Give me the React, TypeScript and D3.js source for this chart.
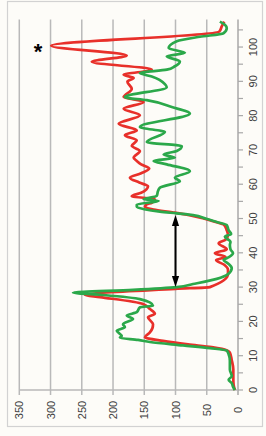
import React from 'react';
import * as d3 from 'd3';

const W = 266;
const H = 436;

const positionTicks = [0, 10, 20, 30, 40, 50, 60, 70, 80, 90, 100];
const positionMinorTicks = d3.range(0, 106, 5);
const valueTicks = [0, 50, 100, 150, 200, 250, 300, 350];

const greenX = [0, 1, 2, 3, 4, 6, 8.5, 10.4, 11.5, 12.2, 13, 14, 14.6, 15.2, 15.8, 16.5, 17.3, 18.3, 19.2, 20.7, 21.7, 22.7, 24.1, 24.6, 26.5, 27.7, 28.4, 29.2, 30, 30.9, 32.4, 33.8, 35.5, 36.9, 37.9, 38.8, 39.9, 41, 42.3, 43.2, 44.7, 45.5, 46.6, 48.1, 49, 50, 51, 51.5, 52, 52.7, 53.4, 54.1, 55.1, 55.6, 56.6, 58, 59, 60.9, 61.9, 63.8, 65.8, 66.8, 67.7, 68.7, 69.7, 71.1, 72.3, 75.2, 76.7, 80.6, 82.5, 84.5, 85.4, 88.3, 89.2, 91.4, 92.4, 93.4, 94.4, 95.8, 97.3, 98.3, 99.7, 101.7, 103, 104, 105.5, 106.5, 107.4];
const greenY = [5, 8, 10, 15, 10, 13, 13, 15, 18, 45, 88, 141, 160, 189, 186, 190, 194, 181, 184, 168, 178, 162, 157, 136, 157, 215, 264, 168, 98, 72, 34, 16, 10, 16, 23, 14, 8, 12, 13, 12, 21, 11, 15, 18, 34, 52, 72, 98, 125, 150, 162, 162, 127, 151, 130, 128, 125, 93, 101, 77, 114, 135, 101, 119, 98, 90, 146, 117, 157, 77, 106, 146, 181, 114, 117, 138, 157, 114, 101, 93, 114, 85, 111, 98, 61, 23.5, 18, 21, 29];

const redX = [0, 1.5, 3.1, 6, 8.7, 10.9, 11.4, 12.5, 13.3, 14.3, 15.4, 16.8, 18, 19.2, 20.2, 21.2, 22.2, 23.6, 25.1, 27.1, 27.7, 29.5, 30, 33.8, 35, 36.5, 37.9, 38.8, 39.9, 41, 42.8, 43.8, 45.2, 46.6, 48.1, 49, 50, 51, 51.8, 52.6, 53.4, 54.1, 54.6, 55.6, 56.5, 57.5, 59.4, 60.5, 61.9, 63.2, 64.6, 65.8, 66.8, 67.7, 69.7, 71.2, 72.8, 74.3, 75.7, 77.6, 80.1, 82, 84, 85.4, 87.8, 89.9, 91, 91.9, 93.4, 95.7, 97.5, 100.4, 104.5, 106, 107.4];
const redY = [5, 7, 7.5, 7.5, 10, 13, 16, 42, 80, 120, 149, 141, 137, 136, 140, 144, 133, 141, 152, 221, 245, 100, 45, 16, 16, 22, 35, 20, 37, 18, 31, 20, 16, 18, 22, 36, 55, 78, 105, 135, 149, 146, 138, 133, 170, 155, 144, 158, 173, 155, 142, 155, 162, 167, 157, 170, 162, 181, 162, 191, 157, 183, 151, 183, 170, 177, 167, 183, 138, 234, 178, 299, 30, 26, 22];

const arrowValue = 100;
const arrowFrom = 30;
const arrowTo = 51;
const starPos = 100.3;
const starValue = 320;

export default function App() {
  const pos = d3.scaleLinear().domain([0, 108]).range([390, 19.6]);
  const val = d3.scaleLinear().domain([0, 350]).range([238, 19.3]);

  const line = d3
    .line<[number, number]>()
    .x((d) => val(d[1]))
    .y((d) => pos(d[0]))
    .curve(d3.curveMonotoneY);

  const green: [number, number][] = greenX.map((x, i) => [x, greenY[i]]);
  const red: [number, number][] = redX.map((x, i) => [x, redY[i]]);

  const font = "'Liberation Sans', Arial, sans-serif";
  const ax = val(arrowValue);
  const aTop = pos(arrowTo);
  const aBot = pos(arrowFrom);
  const headL = 11;
  const headW = 3.6;

  return (
    <svg
      width={W}
      height={H}
      style={{ position: 'absolute', left: 0, top: 0, background: '#fdfcf8' }}
    >
      <rect x={0} y={0} width={W} height={H} fill="#fdfcf8" />
      <rect x={7.5} y={1.5} width={255} height={425} fill="none" stroke="#d2d2d2" strokeWidth={1.2} />
      {valueTicks.map((t) => (
        <line
          key={'g' + t}
          x1={val(t)}
          x2={val(t)}
          y1={pos(108)}
          y2={pos(0) + 5}
          stroke={t === 0 ? '#a8a8a8' : '#b9b9b9'}
          strokeWidth={1.5}
        />
      ))}
      <line x1={val(350)} x2={val(0)} y1={pos(0)} y2={pos(0)} stroke="#b9b9b9" strokeWidth={1.3} />
      {positionMinorTicks.map((t) => (
        <line key={'t' + t} x1={val(0)} x2={val(0) + 5} y1={pos(t)} y2={pos(t)} stroke="#a8a8a8" strokeWidth={1.2} />
      ))}
      {valueTicks.map((t) => (
        <text
          key={'vl' + t}
          transform={`translate(${val(t)},410) rotate(-90)`}
          textAnchor="middle"
          dominantBaseline="central"
          fontFamily={font}
          fontSize={11}
          fill="#404040"
        >
          {t}
        </text>
      ))}
      {positionTicks.map((t) => (
        <text
          key={'pl' + t}
          transform={`translate(253,${pos(t)}) rotate(-90)`}
          textAnchor="middle"
          dominantBaseline="central"
          fontFamily={font}
          fontSize={11}
          fill="#404040"
        >
          {t}
        </text>
      ))}
      <path d={line(red) || ''} fill="none" stroke="#e8302a" strokeWidth={2.7} strokeLinejoin="round" />
      <path d={line(green) || ''} fill="none" stroke="#2ba84a" strokeWidth={2.7} strokeLinejoin="round" />
      <line x1={ax} x2={ax} y1={aTop + headL - 2} y2={aBot - headL + 2} stroke="#000" strokeWidth={2} />
      <polygon
        points={`${ax},${aTop} ${ax - headW},${aTop + headL} ${ax + headW},${aTop + headL}`}
        fill="#000"
      />
      <polygon
        points={`${ax},${aBot} ${ax - headW},${aBot - headL} ${ax + headW},${aBot - headL}`}
        fill="#000"
      />
      <text
        x={val(starValue)}
        y={pos(starPos) + 12.5}
        textAnchor="middle"
        fontFamily={font}
        fontWeight="bold"
        fontSize={22}
        fill="#000"
      >
        *
      </text>
    </svg>
  );
}
